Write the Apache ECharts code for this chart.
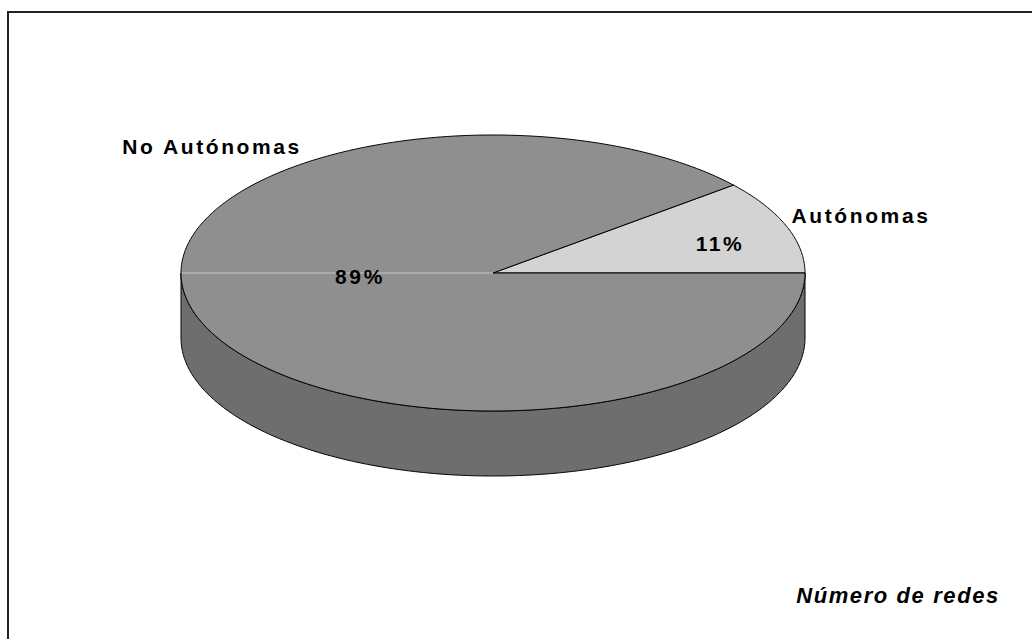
<!DOCTYPE html>
<html>
<head>
<meta charset="utf-8">
<script src="https://cdn.jsdelivr.net/npm/echarts@6/dist/echarts.min.js"></script>
<style>
  html, body { margin: 0; padding: 0; background: #fff; }
  #chart { width: 1032px; height: 639px; }
  /* excel-style wide tracking on the labels */
  #chart text { letter-spacing: 2.6px; }
  #chart text[style*="italic"] { letter-spacing: 1.6px; }
</style>
</head>
<body>
<div id="chart"></div>
<script>
var names = ["Autónomas", "No Autónomas"];
var values = [11, 89];
var topColors = ["#d3d3d3", "#8f8f8f"];
var sideColors = ["#a9a9a9", "#6e6e6e"];

var total = values.reduce(function (s, v) { return s + v; }, 0);
function pct(i) { return Math.round(values[i] / total * 100) + "%"; }

// elliptical "3d" pie, centre and radii in px
var cx = 493, cy = 273, rx = 312, ry = 138, depth = 65;

function pt(a, dy) {
  return [cx + rx * Math.cos(a), cy - ry * Math.sin(a) + dy];
}
function arc(a0, a1, dy) {
  var n = Math.max(2, Math.ceil(Math.abs(a1 - a0) / 0.01));
  var pts = [];
  for (var k = 0; k <= n; k++) pts.push(pt(a0 + (a1 - a0) * k / n, dy));
  return pts;
}

function renderItem(params, api) {
  var i = params.dataIndex;
  var before = 0;
  for (var k = 0; k < i; k++) before += values[k];
  var a0 = before / total * 2 * Math.PI;
  var a1 = (before + api.value(0)) / total * 2 * Math.PI;
  var children = [];
  // only the front half of the wall can be seen
  var s0 = Math.max(a0, Math.PI), s1 = Math.min(a1, 2 * Math.PI);
  if (s1 > s0) {
    children.push({
      type: "polygon",
      shape: { points: arc(s0, s1, 0).concat(arc(s1, s0, depth)) },
      style: { fill: sideColors[i], stroke: "#000", lineWidth: 1 },
      z2: 1
    });
  }
  children.push({
    type: "polygon",
    shape: { points: [[cx, cy]].concat(arc(a0, a1, 0)) },
    style: { fill: topColors[i], stroke: "#000", lineWidth: 1 },
    z2: 2
  });
  if (a0 < Math.PI && a1 > Math.PI) {
    var p = pt(Math.PI, 0);
    children.push({
      type: "line",
      shape: { x1: p[0] + 1, y1: p[1], x2: cx, y2: cy },
      style: { stroke: "#c6c6c6", lineWidth: 1 },
      z2: 3
    });
  }
  return { type: "group", children: children };
}

var labelFont = "bold 21px 'Liberation Sans', Arial, sans-serif";

var myChart = echarts.init(document.getElementById("chart"), null, { renderer: "svg" });
myChart.setOption({
  animation: false,
  tooltip: { show: false },
  graphic: [
    {
      type: "rect",
      shape: { x: 8, y: 12, width: 1100, height: 700 },
      style: { fill: "none", stroke: "#222", lineWidth: 2 },
      silent: true,
      z: 0
    },
    {
      type: "text", x: 212, y: 146, z: 10,
      style: { text: names[1], font: labelFont, fill: "#000", align: "center", verticalAlign: "middle" }
    },
    {
      type: "text", x: 861, y: 215, z: 10,
      style: { text: names[0], font: labelFont, fill: "#000", align: "center", verticalAlign: "middle" }
    },
    {
      type: "text", x: 720, y: 243, z: 10,
      style: { text: pct(0), font: labelFont, fill: "#000", align: "center", verticalAlign: "middle" }
    },
    {
      type: "text", x: 360, y: 276, z: 10,
      style: { text: pct(1), font: labelFont, fill: "#000", align: "center", verticalAlign: "middle" }
    },
    {
      type: "text", x: 898, y: 595, z: 10,
      style: { text: "Número de redes", font: "italic bold 22px 'Liberation Sans', Arial, sans-serif", fill: "#000", align: "center", verticalAlign: "middle" }
    }
  ],
  series: [
    {
      type: "custom",
      coordinateSystem: "none",
      renderItem: renderItem,
      data: values.map(function (v, i) { return { name: names[i], value: [v] }; }),
      z: 2
    }
  ]
});
</script>
</body>
</html>
